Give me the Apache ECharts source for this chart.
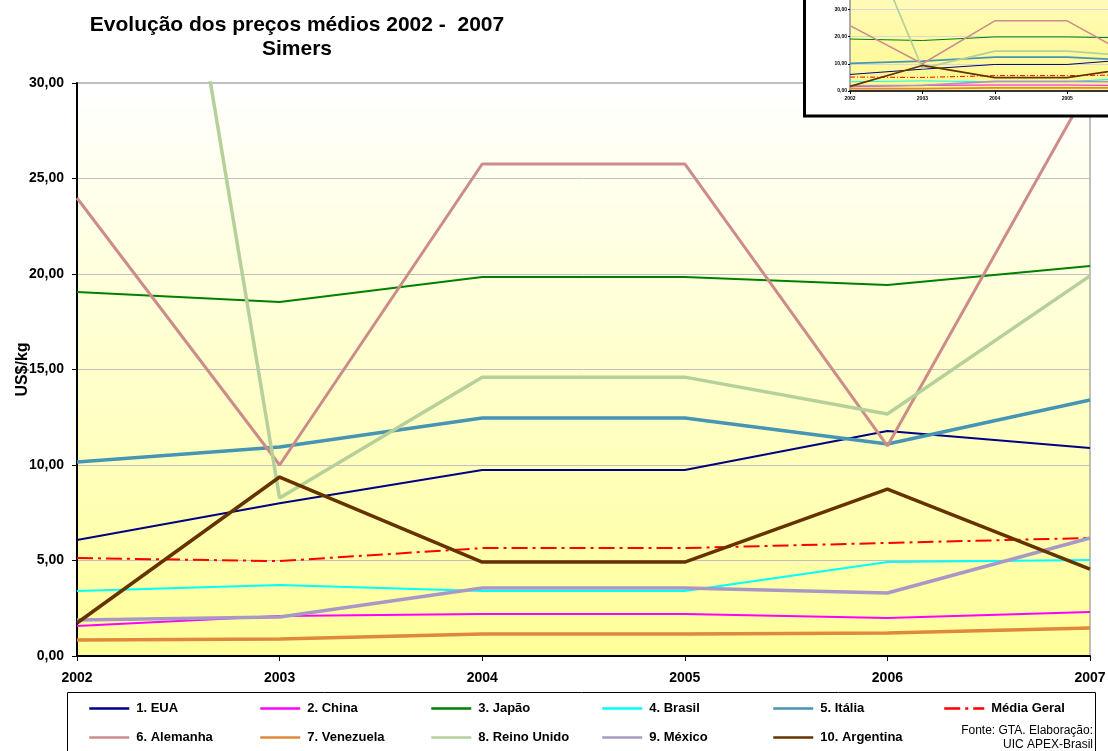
<!DOCTYPE html>
<html>
<head>
<meta charset="utf-8">
<title>Simers</title>
<script src="https://cdn.jsdelivr.net/npm/echarts@6/dist/echarts.min.js"></script>
<style>
  html, body { margin: 0; padding: 0; background: #fff; }
  #main { width: 1108px; height: 751px; }
</style>
</head>
<body>
<div id="main"></div>
<script>
// anos e precos medios (US$/kg)
var anos = ['2002', '2003', '2004', '2005', '2006', '2007'];
var eua = [6.07, 8.00, 9.74, 9.74, 11.78, 10.89];
var china = [1.57, 2.09, 2.20, 2.20, 1.99, 2.30];
var japao = [19.06, 18.53, 19.84, 19.84, 19.42, 20.42];
var brasil = [3.40, 3.72, 3.40, 3.40, 4.92, 5.03];
var italia = [10.16, 10.94, 12.46, 12.46, 11.10, 13.40];
var mediaGeral = [5.13, 4.97, 5.65, 5.65, 5.92, 6.18];
var alemanha = [23.98, 10.00, 25.76, 25.76, 11.00, 29.90];
var venezuela = [0.84, 0.89, 1.15, 1.15, 1.20, 1.47];
var reinoUnido = [72.0, 8.27, 14.60, 14.60, 12.67, 19.90];
var mexico = [1.88, 2.04, 3.56, 3.56, 3.30, 6.18];
var argentina = [1.73, 9.37, 4.92, 4.92, 8.74, 4.55];
var yTicks = [0, 5, 10, 15, 20, 25, 30];

var fonte = 'Liberation Sans, Arial, sans-serif';
var traco = [16, 5, 3, 5];

// nome, dados, cor, espessura, tipo de linha
var linhas = [
    ['1. EUA', eua, '#000080', 2, 'solid'],
    ['2. China', china, '#ff00ff', 2, 'solid'],
    ['3. Japão', japao, '#008000', 2, 'solid'],
    ['4. Brasil', brasil, '#00ffff', 2, 'solid'],
    ['5. Itália', italia, '#4695b5', 3.5, 'solid'],
    ['Média Geral', mediaGeral, '#ff0000', 2, traco],
    ['6. Alemanha', alemanha, '#cc8c8c', 3, 'solid'],
    ['7. Venezuela', venezuela, '#e0883c', 3.5, 'solid'],
    ['8. Reino Unido', reinoUnido, '#b5d09a', 3.5, 'solid'],
    ['9. México', mexico, '#a798c6', 3.5, 'solid'],
    ['10. Argentina', argentina, '#663300', 3.5, 'solid']
];

function virgula(v) {
    return v.toFixed(2).replace('.', ',');
}

var series = [];
// grafico principal
linhas.forEach(function (l) {
    series.push({
        name: l[0],
        type: 'line',
        xAxisIndex: 0,
        yAxisIndex: 0,
        data: l[1],
        symbol: 'none',
        showSymbol: false,
        animation: false,
        lineStyle: { color: l[2], width: l[3], type: l[4] },
        itemStyle: { color: l[2] }
    });
});
// miniatura no canto superior direito
linhas.forEach(function (l) {
    series.push({
        name: l[0],
        type: 'line',
        xAxisIndex: 1,
        yAxisIndex: 1,
        data: l[1],
        symbol: 'none',
        animation: false,
        zlevel: 1,
        z: 3,
        lineStyle: { color: l[2], width: Math.max(1, l[3] * 0.5), type: l[4] === 'solid' ? 'solid' : [5, 2, 1, 2] },
        itemStyle: { color: l[2] }
    });
});

// uma legenda por item, em 2 linhas de 6 colunas
var legendas = linhas.map(function (l, i) {
    return {
        data: [l[0]],
        left: 88 + (i % 6) * 171,
        top: 702 + Math.floor(i / 6) * 29,
        itemWidth: 40,
        itemHeight: 14,
        itemGap: 0,
        padding: 0,
        selectedMode: false,
        itemStyle: { opacity: 0 },
        lineStyle: { width: 2.5 },
        textStyle: { fontFamily: fonte, fontSize: 13, fontWeight: 'bold', color: '#000', padding: [0, 0, 0, 2] }
    };
});

var myChart = echarts.init(document.getElementById('main'));
var option = {
    backgroundColor: '#ffffff',
    animation: false,
    textStyle: { fontFamily: fonte },
    title: {
        text: 'Evolução dos preços médios 2002 -  2007\nSimers',
        left: 292,
        top: 8,
        textAlign: 'center',
        textStyle: { fontFamily: fonte, fontSize: 21, fontWeight: 'bold', color: '#000', lineHeight: 24 }
    },
    legend: legendas,
    grid: [
        {
            left: 77, right: 18, top: 83, bottom: 95,
            outerBoundsMode: 'none',
            containLabel: false,
            show: true,
            borderColor: '#808080',
            borderWidth: 1,
            backgroundColor: {
                type: 'linear', x: 0, y: 0, x2: 0, y2: 1,
                colorStops: [{ offset: 0, color: '#ffffff' }, { offset: 1, color: '#ffff99' }]
            }
        },
        {
            // miniatura: 0 em y=91, parte de cima e a direita ficam fora da tela
            left: 850, right: -104, top: -18, bottom: 660,
            outerBoundsMode: 'none',
            containLabel: false,
            show: true,
            zlevel: 1,
            z: 1,
            borderColor: '#a0a0a0',
            borderWidth: 1,
            backgroundColor: {
                type: 'linear', x: 0, y: 0, x2: 0, y2: 1,
                colorStops: [{ offset: 0, color: '#fffbc0' }, { offset: 1, color: '#fff98c' }]
            }
        }
    ],
    xAxis: [
        {
            type: 'category',
            gridIndex: 0,
            data: anos,
            boundaryGap: false,
            axisLine: { lineStyle: { color: '#000', width: 2 } },
            axisTick: { show: true, length: 5, lineStyle: { color: '#000' } },
            axisLabel: { color: '#000', fontSize: 14, fontWeight: 'bold', margin: 15, fontFamily: fonte },
            splitLine: { show: false }
        },
        {
            type: 'category',
            gridIndex: 1,
            data: anos,
            boundaryGap: false,
            zlevel: 1,
            z: 2,
            axisLine: { lineStyle: { color: '#000', width: 1.5 } },
            axisTick: { show: true, length: 3, lineStyle: { color: '#000' } },
            axisLabel: { color: '#000', fontSize: 5, fontWeight: 'bold', margin: 5, fontFamily: fonte },
            splitLine: { show: false }
        }
    ],
    yAxis: [
        {
            type: 'value',
            gridIndex: 0,
            min: yTicks[0],
            max: yTicks[yTicks.length - 1],
            interval: yTicks[1] - yTicks[0],
            name: 'US$/kg',
            nameLocation: 'middle',
            nameGap: 46,
            nameMoveOverlap: false,
            nameTextStyle: { color: '#000', fontSize: 16, fontWeight: 'bold', fontFamily: fonte },
            axisLine: { show: true, lineStyle: { color: '#000', width: 2 } },
            axisTick: { show: true, length: 5, lineStyle: { color: '#000' } },
            axisLabel: { color: '#000', fontSize: 14, fontWeight: 'bold', margin: 13, fontFamily: fonte, formatter: virgula },
            splitLine: { show: true, lineStyle: { color: '#c0c0c0', width: 1 } }
        },
        {
            type: 'value',
            gridIndex: 1,
            min: 0,
            max: 40,
            interval: 10,
            zlevel: 1,
            z: 2,
            axisLine: { show: true, lineStyle: { color: '#a0a0a0', width: 1.5 } },
            axisTick: { show: true, length: 2, lineStyle: { color: '#000' } },
            axisLabel: { color: '#000', fontSize: 5, fontWeight: 'bold', margin: 3, fontFamily: fonte, formatter: virgula },
            splitLine: { show: true, lineStyle: { color: '#d8d8d8', width: 1 } }
        }
    ],
    graphic: [
        {
            // quadro da legenda
            type: 'rect',
            shape: { x: 67.5, y: 692.5, width: 1028, height: 100 },
            style: { fill: 'none', stroke: '#000', lineWidth: 1 },
            silent: true
        },
        {
            type: 'text',
            x: 1093,
            y: 731,
            style: { text: 'Fonte: GTA. Elaboração:', align: 'right', textAlign: 'right', verticalAlign: 'middle', fill: '#000', font: '12px ' + fonte },
            silent: true
        },
        {
            type: 'text',
            x: 1093,
            y: 745,
            style: { text: 'UIC APEX-Brasil', align: 'right', textAlign: 'right', verticalAlign: 'middle', fill: '#000', font: '12px ' + fonte },
            silent: true
        },
        {
            // moldura da miniatura
            type: 'rect',
            zlevel: 1,
            z: 0,
            shape: { x: 804.5, y: -10, width: 400, height: 126 },
            style: { fill: '#ffffff', stroke: '#000', lineWidth: 3 },
            silent: true
        }
    ],
    series: series
};
myChart.setOption(option);
</script>
</body>
</html>
